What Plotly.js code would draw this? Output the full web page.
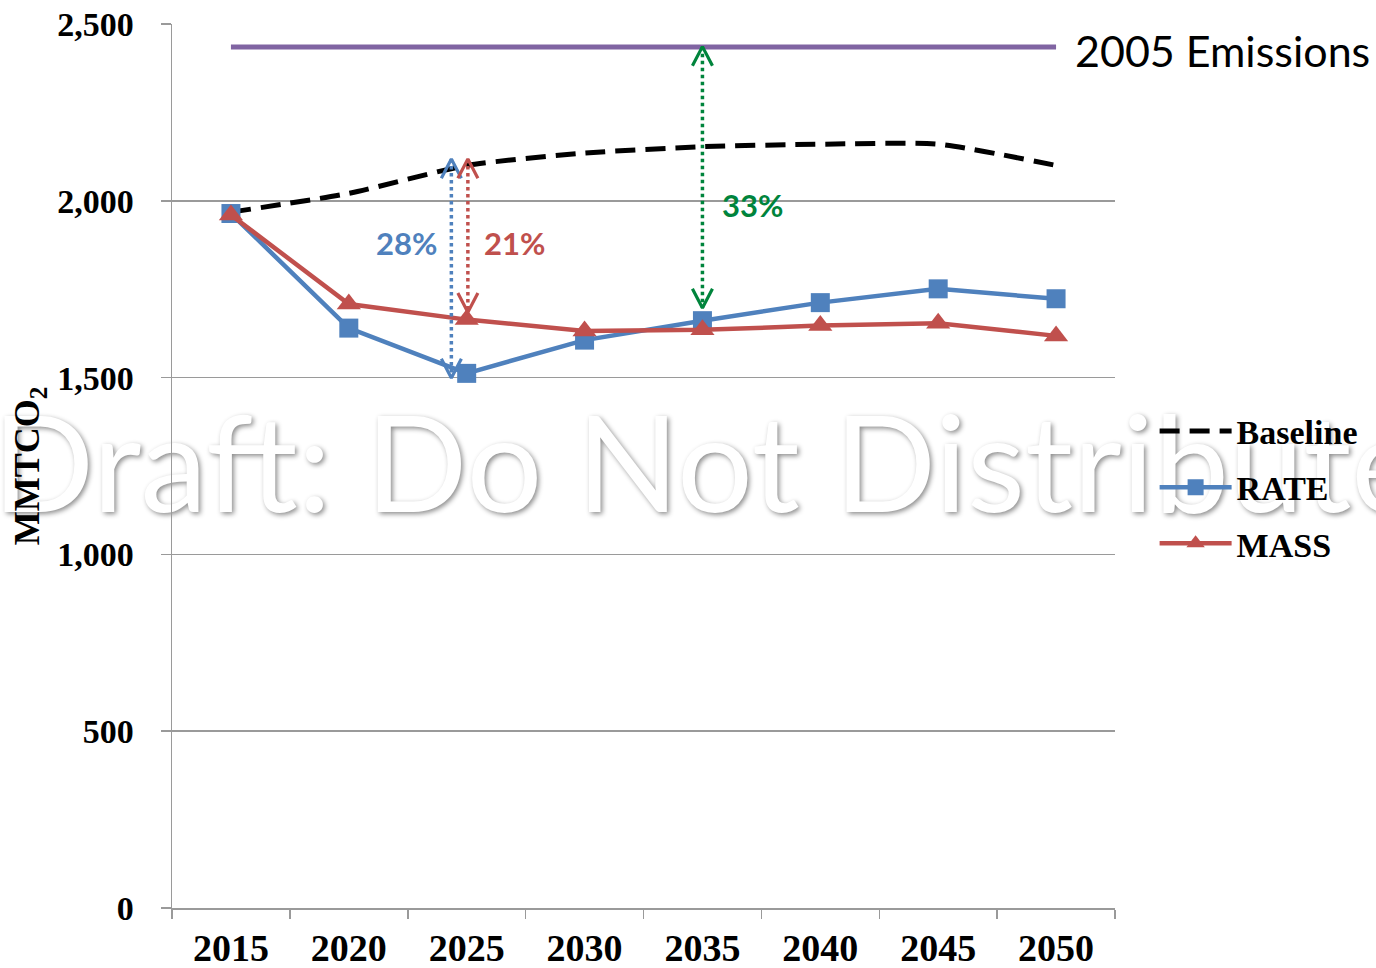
<!DOCTYPE html>
<html>
<head>
<meta charset="utf-8">
<script src="https://cdn.plot.ly/plotly-3.0.1.min.js"></script>
<style>html,body{margin:0;padding:0;background:#fff;}#chart{width:1376px;height:968px;}</style>
</head>
<body>
<div id="chart"></div>
<script>
// ---- data ----
var years = ["2015","2020","2025","2030","2035","2040","2045","2050"];
var baseline = [1968, 2021, 2100, 2135, 2153, 2160, 2160, 2100];
var rate     = [1964, 1640, 1512, 1606, 1661, 1712, 1751, 1723];
var mass     = [1960, 1708, 1664, 1632, 1635, 1647, 1654, 1618];
var emissions2005 = 2435;
var yTicks = [0, 500, 1000, 1500, 2000, 2500];

// reduction arrows: [x position (category index), top value, bottom value]
var arrowBlue  = [1.87, 2118, 1499];
var arrowRed   = [2.01, 2118, 1685];
var arrowGreen = [4.00, 2436, 1697];
var pctLabels = ["28%", "21%", "33%"];
var watermark = "Draft: Do Not Distribute";

var BLUE = "#4F81BD", RED = "#C0504D", GREEN = "#00843C", PURPLE = "#8064A2";
var SERIF = "Liberation Serif, Times New Roman, serif";
var SANS = "Lato, Open Sans, sans-serif";

// chevron size in data units (≈10px half-width, ≈19px height)
var CHX = 0.085, CHY = 54;

function arrowTraces(a, color) {
  var x = a[0], top = a[1], bot = a[2];
  return [
    {x: [x, x], y: [top, bot], xaxis: "x2", yaxis: "y", mode: "lines", showlegend: false, hoverinfo: "skip",
     line: {color: color, width: 3.5, dash: "dot"}},
    {x: [x - CHX, x, x + CHX], y: [top - CHY, top, top - CHY], xaxis: "x2", yaxis: "y", mode: "lines",
     showlegend: false, hoverinfo: "skip", line: {color: color, width: 3.2}},
    {x: [x - CHX, x, x + CHX], y: [bot + CHY, bot, bot + CHY], xaxis: "x2", yaxis: "y", mode: "lines",
     showlegend: false, hoverinfo: "skip", line: {color: color, width: 3.2}}
  ];
}

var traces = [
  {x: [4.04], y: [1214], xaxis: "x2", yaxis: "y", mode: "text", text: [watermark], textposition: "middle center",
   cliponaxis: false, showlegend: false, hoverinfo: "skip",
   textfont: {family: SANS, size: 134, color: "#ffffff", shadow: "2px 2px 5px rgba(0,0,0,0.45)"}},
  {x: [years[0], years[years.length - 1]], y: [emissions2005, emissions2005], mode: "lines", showlegend: false,
   line: {color: PURPLE, width: 5}, hoverinfo: "skip"},
  {x: years, y: baseline, name: "Baseline", mode: "lines", legendgroup: "a",
   line: {color: "#000", width: 5, dash: "20px,10px", shape: "spline", smoothing: 0.6}},
  {x: years, y: rate, name: "RATE", mode: "lines+markers", legendgroup: "b",
   line: {color: BLUE, width: 4.5}, marker: {symbol: "square", size: 19, color: BLUE}},
  {x: years, y: mass, name: "MASS", mode: "lines+markers", legendgroup: "c",
   line: {color: RED, width: 4.5}, marker: {symbol: "triangle-up", size: 21, color: RED}}
].concat(arrowTraces(arrowBlue, BLUE), arrowTraces(arrowRed, RED), arrowTraces(arrowGreen, GREEN));

var layout = {
  width: 1376, height: 968,
  margin: {l: 172, r: 261, t: 24, b: 60},
  paper_bgcolor: "#fff", plot_bgcolor: "#fff",
  showlegend: true,
  xaxis: {
    type: "category", categoryarray: years, range: [-0.5, 7.5], tickson: "boundaries",
    ticks: "outside", ticklen: 9, tickwidth: 1.5, tickcolor: "#9a9a9a",
    showline: true, linecolor: "#9a9a9a", linewidth: 1.5, showgrid: false, zeroline: false,
    tickfont: {family: SERIF, size: 38, color: "#000", weight: "bold"}, ticklabelstandoff: 6
  },
  xaxis2: {overlaying: "x", type: "linear", range: [-0.5, 7.5], visible: false},
  yaxis: {
    range: [0, 2500], tickvals: yTicks, tickformat: ",d",
    ticks: "outside", ticklen: 10, tickwidth: 1.5, tickcolor: "#9a9a9a",
    showline: true, linecolor: "#9a9a9a", linewidth: 1.5,
    showgrid: true, gridcolor: "#9a9a9a", gridwidth: 1.5, zeroline: false,
    tickfont: {family: SERIF, size: 34, color: "#000", weight: "bold"}, ticklabelstandoff: 20,
    title: {text: "MMTCO<sub>2</sub>", font: {family: SERIF, size: 36, color: "#000", weight: "bold"}, standoff: 6}
  },
  legend: {
    x: 1.042, y: 0.572, xanchor: "left", yanchor: "top", bgcolor: "rgba(0,0,0,0)",
    font: {family: SERIF, size: 34, color: "#000", weight: "bold"},
    itemwidth: 72, tracegroupgap: 9, traceorder: "grouped", itemsizing: "trace"
  },
  annotations: [
    {text: "2005 Emissions", xref: "paper", yref: "y", x: 0.9555, y: emissions2005, xanchor: "left", yanchor: "middle",
     yshift: -4, showarrow: false, font: {family: SANS, size: 43, color: "#000"}},
    {text: "<b>" + pctLabels[0] + "</b>", xref: "x2", yref: "y", x: arrowBlue[0], y: 1880, xanchor: "right", xshift: -12,
     showarrow: false, font: {family: SANS, size: 31, color: BLUE}},
    {text: "<b>" + pctLabels[1] + "</b>", xref: "x2", yref: "y", x: arrowRed[0], y: 1880, xanchor: "left", xshift: 14,
     showarrow: false, font: {family: SANS, size: 31, color: RED}},
    {text: "<b>" + pctLabels[2] + "</b>", xref: "x2", yref: "y", x: arrowGreen[0], y: 1987, xanchor: "left", xshift: 18,
     showarrow: false, font: {family: SANS, size: 31, color: GREEN}}
  ]
};

Plotly.newPlot("chart", traces, layout, {displayModeBar: false, staticPlot: true});
</script>
</body>
</html>
